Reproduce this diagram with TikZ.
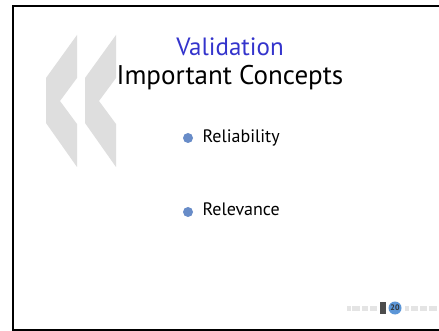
\documentclass[tikz,border=0pt]{standalone}
\usepackage{fontspec}
\setmainfont{PT Sans}
\usepackage{tikz}
\usetikzlibrary{backgrounds}
\definecolor{titleblue}{RGB}{52,52,204}
\definecolor{bulletblue}{RGB}{104,140,200}
\definecolor{chevrongray}{RGB}{222,222,222}
\definecolor{logogray}{RGB}{228,228,228}
\definecolor{pageblue}{RGB}{92,150,215}
\tikzset{
  chevron/.style={fill=chevrongray,draw=none},
  itemtext/.style={anchor=base west,font=\fontsize{18}{20}\selectfont},
  itemdot/.style={circle,fill=bulletblue,inner sep=0pt,minimum size=10pt},
  logobar/.style={fill=logogray,draw=none}
}

\begin{document}
\begin{tikzpicture}[x=1pt,y=-1pt]
\useasboundingbox (0,0) rectangle (439,331);
\fill[white] (0,0) rectangle (439,331);
% chevrons in the back
\foreach \x in {46,85} {
  \fill[chevron] (\x+31,35) -- (\x,78) -- (\x,123) -- (\x+31,167) -- (\x+31,124)
    -- (\x+14,101) -- (\x+31,78) -- cycle;
}
% frame, open on the right
\draw[line width=2.2pt] (441,6) -- (13,6) -- (13,330) -- (441,330);
% title
\node[anchor=base,text=titleblue,font=\fontsize{25}{28}\selectfont] (title) at (230,56) {Validation};
\node[anchor=base,font=\fontsize{27}{30}\selectfont] (subtitle) at (230,85) {Important Concepts};
% items
\node[itemdot] (dot1) at (188,138) {};
\node[itemtext] (reliability) at (199,143) {Reliability};
\node[itemdot] (dot2) at (188,212) {};
\node[itemtext] (relevance) at (199,215) {Relevance};
% footer logo
\foreach \a/\b in {347/351,352/360,362/368,370/377,405/409,411/418,420/427,429/437} {
  \fill[logobar] (\a,306) rectangle (\b,311);
}
\fill[gray!60!black] (380,302) rectangle (386,314);
\node[fill=pageblue,circle,inner sep=0.5pt,minimum size=13pt,
  font=\fontsize{8}{8}\selectfont\bfseries,text=black!80] (page) at (395,308) {20};
\end{tikzpicture}
\end{document}
